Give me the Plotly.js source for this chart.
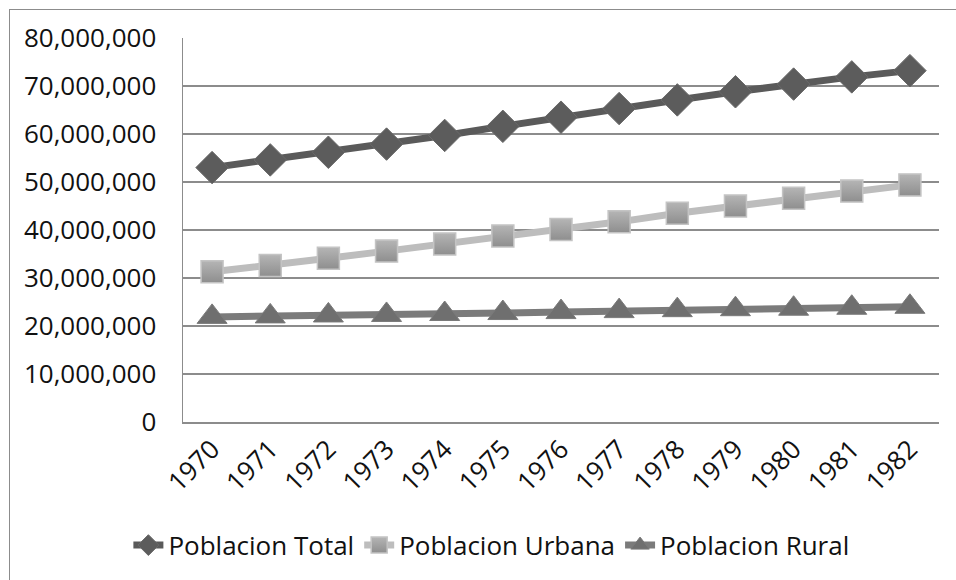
<!DOCTYPE html>
<html><head><meta charset="utf-8">
<script src="https://cdn.plot.ly/plotly-3.0.1.min.js"></script>
<style>
html,body{margin:0;padding:0;background:#fff;}
#wrap{position:relative;width:956px;height:580px;}
#chart{width:956px;height:580px;}
#frame{position:absolute;left:9px;top:9px;width:1000px;height:1000px;border-left:1.5px solid #8c8c8c;border-top:1.5px solid #8c8c8c;pointer-events:none;}
</style></head>
<body>
<div id="wrap"><div id="chart"></div><div id="frame"></div></div>
<script>
const years = ["1970","1971","1972","1973","1974","1975","1976","1977","1978","1979","1980","1981","1982"];
const total = [53000000,54600000,56200000,57900000,59700000,61600000,63500000,65300000,67100000,68800000,70400000,71900000,73200000];
const urbana = [31300000,32600000,34100000,35600000,37100000,38750000,40100000,41700000,43500000,45000000,46600000,48100000,49400000];
const rural = [21900000,22000000,22200000,22300000,22500000,22700000,22900000,23100000,23300000,23500000,23600000,23800000,24000000];
const seriesNames = ["Poblacion Total","Poblacion Urbana","Poblacion Rural"];
const yTicks = [0,10000000,20000000,30000000,40000000,50000000,60000000,70000000,80000000];
const yTickText = ["0","10,000,000","20,000,000","30,000,000","40,000,000","50,000,000","60,000,000","70,000,000","80,000,000"];

const FONT = "'Open Sans', 'DejaVu Sans', sans-serif";
const traces = [
  {x: years, y: total, name: seriesNames[0], type:'scatter', mode:'lines+markers',
   line:{color:'#5a5a5a', width:7},
   marker:{symbol:'diamond', size:25, color:'#5c5c5c', line:{color:'#6a6a6a', width:1}}},
  {x: years, y: urbana, name: seriesNames[1], type:'scatter', mode:'lines+markers',
   line:{color:'#bdbdbd', width:7},
   marker:{symbol:'square', size:22, color:'#b5b5b5', gradient:{type:'vertical', color:'#8e8e8e'}, line:{color:'#c4c4c4', width:1.5}}},
  {x: years, y: rural, name: seriesNames[2], type:'scatter', mode:'lines+markers',
   line:{color:'#7b7b7b', width:7},
   marker:{symbol:'triangle-up', size:26, color:'#6f6f6f', line:{color:'#7a7a7a', width:1}}}
];

const layout = {
  width:956, height:580,
  margin:{l:183, r:17, t:38, b:158},
  paper_bgcolor:'#fff', plot_bgcolor:'#fff',
  font:{family:FONT, size:26, color:'#111'},
  showlegend:true,
  legend:{orientation:'h', x:0.514, xanchor:'center', xref:'container', y:0.06, yanchor:'middle', yref:'container',
          font:{family:FONT, size:26, color:'#111'}, itemwidth:30, tracegroupgap:0},
  xaxis:{type:'category', tickangle:-45, showgrid:false, showline:true, linecolor:'#8c8c8c', linewidth:1.5,
         ticks:'', tickfont:{family:FONT, size:26}, range:[-0.5,12.5], fixedrange:true},
  yaxis:{range:[0,80000000], tickvals:yTicks, ticktext:yTickText, showgrid:true, gridcolor:'#8c8c8c', gridwidth:1.5,
         showline:true, linecolor:'#8c8c8c', linewidth:1.5, zeroline:false, ticks:'', ticklabelstandoff:20,
         tickfont:{family:FONT, size:26}, fixedrange:true}
};
Plotly.newPlot('chart', traces, layout, {displayModeBar:false, staticPlot:true});
</script>
</body></html>
